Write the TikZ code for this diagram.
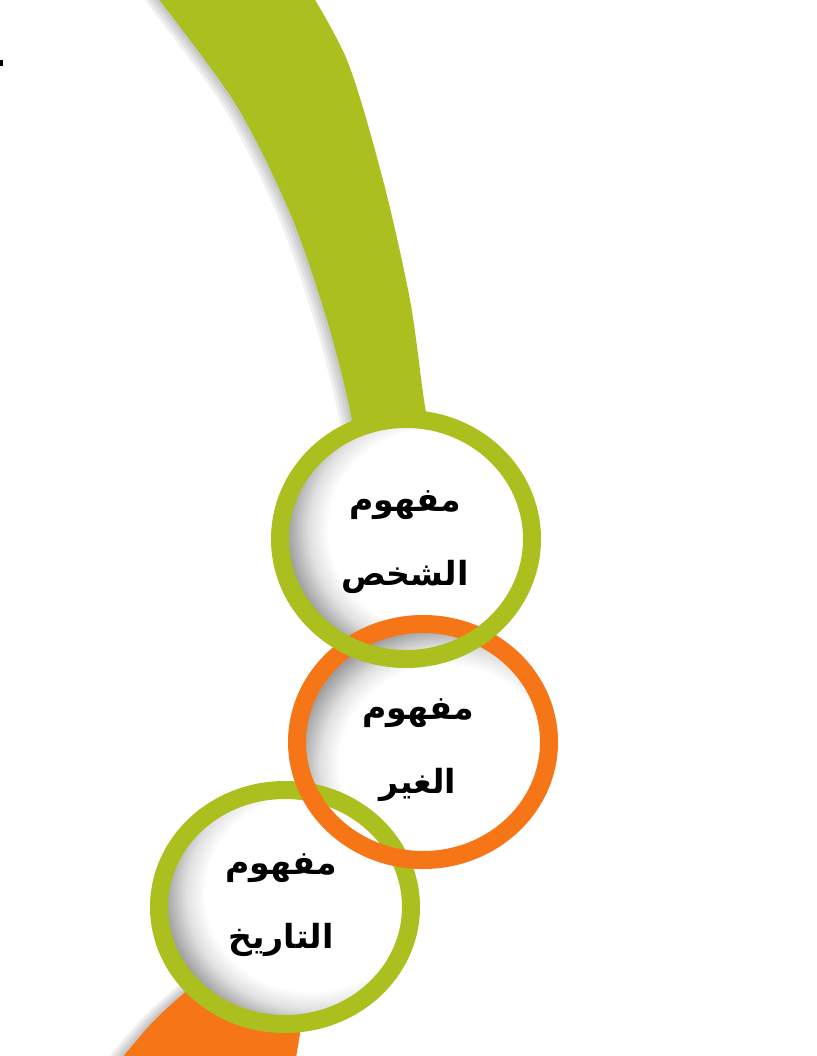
\documentclass[tikz,border=0pt]{standalone}
\usepackage{fontspec}
\newfontfamily\arabicfont[Script=Arabic]{DejaVu Sans}
\TeXXeTstate=1
\usetikzlibrary{calc}
\definecolor{leaf}{RGB}{171,192,30}
\definecolor{tangerine}{RGB}{246,117,22}
\pgfdeclareradialshading{hollow}{\pgfpoint{0bp}{0bp}}{color(0bp)=(white); color(16.5bp)=(white); color(19.5bp)=(black!12); color(23bp)=(black!38); color(50bp)=(black!38)}
\tikzset{%
  ring/.style={line width=13.5bp},
  hole/.style={shading=hollow},
  caption/.style={font=\arabicfont\bfseries\fontsize{25}{56}\selectfont, align=center, inner sep=0pt},
  smudge/.style={fill=black, opacity=0.06}
}
\def\leafband{plot[smooth] coordinates {(140,-25) (233,100) (290,213) (327,320) (350,410) (358,470)} -- plot[smooth] coordinates {(436,470) (424,400) (410,300) (383,180) (347,60) (300,-25)} -- cycle}
\def\tailband{plot[smooth] coordinates {(104,1080) (150,1025) (190,988) (240,950)} -- (310,950) -- plot[smooth] coordinates {(305,1000) (299,1040) (292,1080)} -- cycle}

\begin{document}
\begin{tikzpicture}[x=0.75bp, y=-0.75bp]
  \useasboundingbox (0,0) rectangle (816,1056);
  \clip (0,0) rectangle (816,1056);

\coordinate (C1) at (406,539);
\coordinate (C2) at (423,742);
\coordinate (C3) at (285,907);

% soft shadows left of the bands
\foreach \s in {3,6,9,12} {
  \fill[smudge, shift={(-\s,0.3*\s)}] \leafband;
  \fill[smudge, shift={(-\s,-0.2*\s)}] \tailband;
}

\fill[leaf] \leafband;
\fill[tangerine] \tailband;

% inside of the circles
\foreach \c / \dx / \dy / \ry in {C1/28/-10/120, C2/22/22/118, C3/26/-14/117} {
  \begin{scope}
    \clip (\c) ellipse [x radius=127, y radius=\ry];
    \fill[black!38] (\c) ellipse [x radius=127, y radius=\ry];
    \shade[hole] ($(\c)+(\dx,\dy)$) ellipse [x radius=160, y radius=\ry+32];
  \end{scope}
}

% rings, back to front
\draw[ring, leaf] (C3) ellipse [x radius=126, y radius=117];
\draw[ring, tangerine] (C2) ellipse [x radius=126, y radius=118];
\draw[ring, leaf] (C1) ellipse [x radius=126, y radius=120];

\node[caption] (T1) at (405,542) {\beginR مفهوم\endR\\\beginR الشخص\endR};
\node[caption] (T2) at (418,750) {\beginR مفهوم\endR\\\beginR الغير\endR};
\node[caption] (T3) at (281,905) {\beginR مفهوم\endR\\\beginR التاريخ\endR};

\fill[black] (0,60) rectangle (3,66);

\end{tikzpicture}
\end{document}
